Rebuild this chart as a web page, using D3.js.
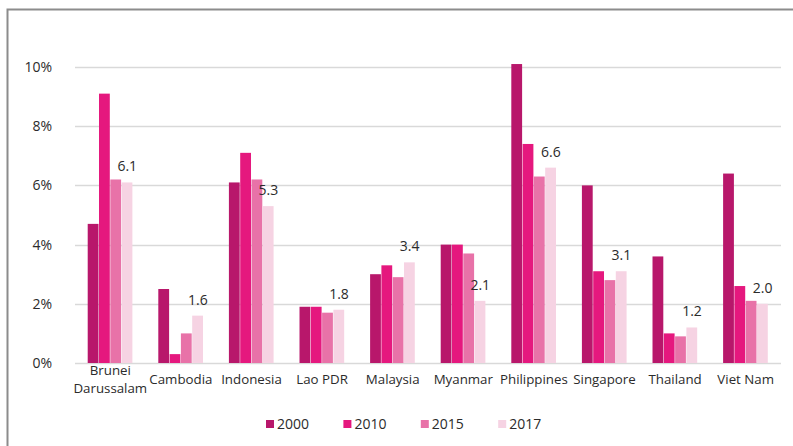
<!DOCTYPE html>
<html lang="en">
<head>
  <meta charset="utf-8">
  <title>ASEAN chart</title>
  <script src="https://d3js.org/d3.v7.min.js"></script>
  <style>
    body { margin: 0; background: #fff; }
    text { font-family: "Open Sans", "Noto Sans", sans-serif; fill: #2b2b2b; }
  </style>
</head>
<body>
	<script type="text/javascript">

	var width = 793;
	var height = 446;

	// data
	var countries = ["Brunei Darussalam", "Cambodia", "Indonesia", "Lao PDR", "Malaysia",
		"Myanmar", "Philippines", "Singapore", "Thailand", "Viet Nam"];
	var years = ["2000", "2010", "2015", "2017"];
	var v2000 = [4.7, 2.5, 6.1, 1.9, 3.0, 4.0, 10.1, 6.0, 3.6, 6.4];
	var v2010 = [9.1, 0.3, 7.1, 1.9, 3.3, 4.0, 7.4, 3.1, 1.0, 2.6];
	var v2015 = [6.2, 1.0, 6.2, 1.7, 2.9, 3.7, 6.3, 2.8, 0.9, 2.1];
	var v2017 = [6.1, 1.6, 5.3, 1.8, 3.4, 2.1, 6.6, 3.1, 1.2, 2.0];
	var yTicks = [0, 2, 4, 6, 8, 10];
	var colors = ["#b8176b", "#e5187e", "#e872a8", "#f6d3e3"];

	var series = [v2000, v2010, v2015, v2017];

	var margin = {top: 67, left: 75, right: 12, bottom: 83};
	var fontSize = "14px";

	var svg = d3.select("body")
				.append("svg")
				.attr("width", width)
				.attr("height", height);

	// frame lines (left and top)
	svg.append("path")
		.attr("d", "M7.5," + height + "V9.5H" + width)
		.attr("fill", "none")
		.attr("stroke", "#8c8c8c")
		.attr("stroke-width", 2);

	var x = d3.scaleBand()
		.domain(countries)
		.range([margin.left, width - margin.right])
		.paddingInner(0.36)
		.paddingOuter(0.18);

	var x1 = d3.scaleBand()
		.domain(years)
		.range([0, x.bandwidth()]);

	var y = d3.scaleLinear()
		.domain([0, 10])
		.range([height - margin.bottom, margin.top]);

	// gridlines
	svg.append("g")
		.selectAll("line")
		.data(yTicks)
		.enter()
		.append("line")
		.attr("x1", margin.left)
		.attr("x2", width - margin.right)
		.attr("y1", function(d) { return Math.round(y(d)) + 0.5; })
		.attr("y2", function(d) { return Math.round(y(d)) + 0.5; })
		.attr("stroke", "#d9d9d9")
		.attr("stroke-width", 1.5);

	// y axis labels
	var yAxis = svg.append("g")
		.attr("transform", "translate(" + (margin.left - 20) + ",0)")
		.call(d3.axisLeft(y).tickValues(yTicks).tickSize(0).tickFormat(function(d) { return d + "%"; }));
	yAxis.select(".domain").remove();
	yAxis.selectAll("text")
		.attr("font-size", fontSize)
		.attr("font-family", null)
		.attr("fill", "#2b2b2b");

	// bars
	var groups = svg.append("g")
		.selectAll("g")
		.data(series)
		.enter()
		.append("g")
		.attr("fill", function(d, i) { return colors[i]; });

	groups.each(function(vals, si) {
		d3.select(this).selectAll("rect")
			.data(vals)
			.enter()
			.append("rect")
			.attr("x", function(d, i) { return x(countries[i]) + x1(years[si]); })
			.attr("y", function(d) { return y(d); })
			.attr("width", x1.bandwidth() - 0.5)
			.attr("height", function(d) { return y(0) - y(d); });
	});

	// value labels on 2017
	svg.append("g")
		.selectAll("text")
		.data(v2017)
		.enter()
		.append("text")
		.attr("x", function(d, i) { return x(countries[i]) + x1("2017") + x1.bandwidth() / 2; })
		.attr("y", function(d) { return y(d) - 11; })
		.attr("text-anchor", "middle")
		.attr("font-size", fontSize)
		.text(function(d) { return d.toFixed(1); });

	// x category labels
	var xAxis = svg.append("g")
		.attr("transform", "translate(0," + (y(0) + 9) + ")")
		.call(d3.axisBottom(x).tickSize(0));
	xAxis.select(".domain").remove();
	xAxis.selectAll("text")
		.attr("font-size", "13.3px")
		.attr("font-family", null)
		.attr("fill", "#2b2b2b")
		.each(function(d) {
			var t = d3.select(this);
			if (d === "Brunei Darussalam") {
				t.text(null);
				t.append("tspan").attr("x", 0).attr("dy", 0).text("Brunei");
				t.append("tspan").attr("x", 0).attr("dy", "1.35em").text("Darussalam");
			}
		});

	// legend
	var legend = svg.append("g")
		.selectAll("g")
		.data(years)
		.enter()
		.append("g")
		.attr("transform", function(d, i) { return "translate(" + (266 + i * 77.4) + ",420)"; });
	legend.append("rect")
		.attr("width", 8)
		.attr("height", 8)
		.attr("fill", function(d, i) { return colors[i]; });
	legend.append("text")
		.attr("x", 11)
		.attr("y", 4)
		.attr("dy", "0.35em")
		.attr("font-size", fontSize)
		.text(function(d) { return d; });

	</script>
</body>
</html>
